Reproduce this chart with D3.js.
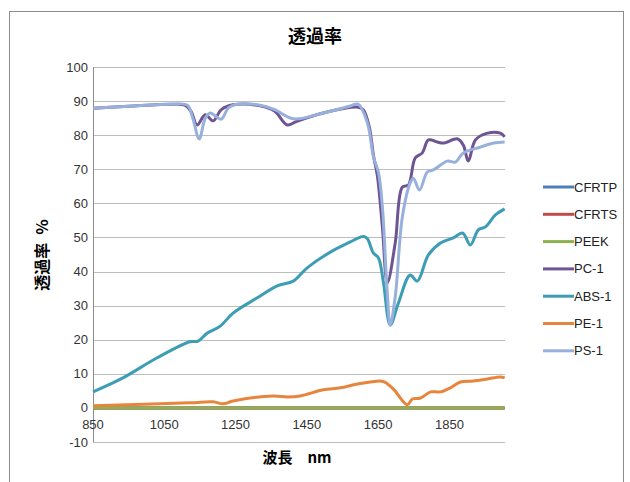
<!DOCTYPE html>
<html>
<head>
<meta charset="utf-8">
<script src="https://cdn.jsdelivr.net/npm/d3@7"></script>
<style>
  body { margin: 0; background: #fff; }
  text { font-family: "Liberation Sans", "Noto Sans CJK JP", sans-serif; }
</style>
</head>
<body>
<div id="chart"></div>
<script>
// data: [wavelength nm, transmittance %]
const seriesNames = ["CFRTP", "CFRTS", "PEEK", "PC-1", "ABS-1", "PE-1", "PS-1"];
const seriesColors = ["#4a7ebb", "#be4b48", "#8fb04f", "#6f5494", "#3c9db4", "#e8853d", "#97b0dc"];

const cfrtp = [[850, 0], [2005, 0]];
const cfrts = [[850, 0], [2005, 0]];
const peek = [[850, 0], [2005, 0]];
const pc1 = [[850,87.9],[950,88.5],[1075,89.1],[1108,88.8],[1125,87],[1142,83],[1165,86],[1187,84.2],[1210,87.5],[1243,88.9],
  [1319,88.6],[1360,87],[1395,83],[1420,84],[1496,86.5],[1594,88.2],[1608,87.5],[1625,82.5],[1637,74],[1648,68],[1662,53],
  [1676,36.7],[1698,48.4],[1718,64.8],[1735,65.4],[1754,73.3],[1774,74.8],[1791,78.6],[1816,78],[1833,77.7],[1873,78.9],
  [1889,77.1],[1903,72.4],[1923,78.6],[1957,80.6],[1993,80.6],[2005,79.5]];
const abs1 = [[850,4.7],[934,8.8],[1030,14.7],[1122,19.4],[1145,19.6],[1170,21.9],[1207,24],[1243,27.8],[1311,32.3],
  [1367,35.8],[1412,37.2],[1451,41.1],[1516,45.7],[1572,48.7],[1600,50.1],[1610,50.3],[1620,49.6],[1637,45.4],[1651,44],
  [1665,36.7],[1684,24.3],[1707,30.8],[1740,39],[1760,37.2],[1791,44.9],[1825,48.4],[1861,49.9],[1887,51.3],[1909,47.8],
  [1931,52.2],[1951,53.1],[1979,56.6],[2005,58.4]];
const pe1 = [[850,0.6],[1122,1.5],[1187,1.8],[1215,1.2],[1243,2],[1356,3.5],[1395,3.2],[1431,3.5],[1496,5.3],[1544,5.9],
  [1592,7],[1656,7.9],[1670,7.5],[1693,5.5],[1732,0.9],[1746,2.6],[1769,2.9],[1797,4.7],[1825,4.7],[1853,5.9],[1881,7.6],
  [1917,7.9],[1957,8.5],[1993,9.1],[2005,8.8]];
const ps1 = [[850,87.9],[950,88.5],[1075,89.1],[1115,88.8],[1130,85],[1148,78.9],[1165,85],[1179,86.5],[1195,85.5],
  [1210,84.7],[1230,88],[1250,89],[1319,88.8],[1360,87.5],[1412,84.8],[1496,86.5],[1570,88.5],[1594,89.1],[1620,83.6],
  [1637,73.6],[1651,69],[1662,59],[1675,35],[1684,24.3],[1698,32.6],[1718,56],[1740,66],[1749,67.4],[1766,63.9],
  [1788,69.2],[1805,69.8],[1844,72.4],[1867,72.1],[1889,74.8],[1937,76.5],[1974,77.7],[2005,78]];

const xTicks = [850, 1050, 1250, 1450, 1650, 1850];
const yTicks = [-10, 0, 10, 20, 30, 40, 50, 60, 70, 80, 90, 100];

const seriesData = [cfrtp, cfrts, peek, pc1, abs1, pe1, ps1];

const width = 630, height = 482;
const svg = d3.select("#chart").append("svg")
  .attr("width", width)
  .attr("height", height);

// chart border
svg.append("rect")
  .attr("x", 9.5).attr("y", 11.5)
  .attr("width", 614).attr("height", 480)
  .attr("fill", "#fff")
  .attr("stroke", "#8c8c8c");

const x = d3.scaleLinear().domain([850, 2006]).range([93, 505]);
const y = d3.scaleLinear().domain([-10, 100]).range([442, 67]);

// gridlines
svg.append("g")
  .selectAll("line")
  .data(yTicks)
  .join("line")
    .attr("x1", x(850)).attr("x2", x(2006))
    .attr("y1", d => Math.round(y(d)) + 0.5)
    .attr("y2", d => Math.round(y(d)) + 0.5)
    .attr("stroke", "#bdbdbd");

// left axis line
svg.append("line")
  .attr("x1", Math.round(x(850)) + 0.5).attr("x2", Math.round(x(850)) + 0.5)
  .attr("y1", y(100)).attr("y2", y(-10))
  .attr("stroke", "#8c8c8c");

// y tick labels
svg.append("g")
  .selectAll("text")
  .data(yTicks)
  .join("text")
    .attr("x", 88)
    .attr("y", d => y(d))
    .attr("dy", "0.35em")
    .attr("text-anchor", "end")
    .style("font-size", "13px")
    .style("fill", "#333")
    .text(d => d);

// x tick labels sit under the zero line
svg.append("g")
  .selectAll("text")
  .data(xTicks)
  .join("text")
    .attr("x", d => x(d))
    .attr("y", y(0) + 17)
    .attr("dy", "0.35em")
    .attr("text-anchor", "middle")
    .style("font-size", "13px")
    .style("fill", "#333")
    .text(d => d);

const line = d3.line()
  .x(d => x(d[0]))
  .y(d => y(d[1]))
  .curve(d3.curveCatmullRom.alpha(0.5));

svg.append("g")
  .selectAll("path")
  .data(seriesData)
  .join("path")
    .attr("d", line)
    .attr("fill", "none")
    .attr("stroke", (d, i) => seriesColors[i])
    .attr("stroke-width", 3)
    .attr("stroke-linejoin", "round");

// title and axis titles
svg.append("text")
  .attr("x", 315).attr("y", 43)
  .attr("text-anchor", "middle")
  .style("font-family", "Noto Sans CJK JP")
  .style("font-size", "18px")
  .style("font-weight", "bold")
  .text("透過率");

svg.append("text")
  .attr("transform", "translate(48,255) rotate(-90)")
  .attr("text-anchor", "middle")
  .style("font-family", "Noto Sans CJK JP")
  .style("font-size", "16px")
  .style("font-weight", "bold")
  .text("透過率\u2002%");

svg.append("text")
  .attr("x", 297).attr("y", 463)
  .attr("text-anchor", "middle")
  .style("font-family", "Noto Sans CJK JP")
  .style("font-size", "15px")
  .style("font-weight", "bold")
  .text("波長\u3000nm");

// legend
const legend = svg.append("g")
  .selectAll("g")
  .data(seriesNames)
  .join("g")
    .attr("transform", (d, i) => `translate(543,${187 + i * 27.3})`);

legend.append("line")
  .attr("x1", 0).attr("x2", 31)
  .attr("stroke", (d, i) => seriesColors[i])
  .attr("stroke-width", 3);

legend.append("text")
  .attr("x", 31)
  .attr("dy", "0.35em")
  .style("font-size", "13px")
  .style("fill", "#222")
  .text(d => d);
</script>
</body>
</html>
